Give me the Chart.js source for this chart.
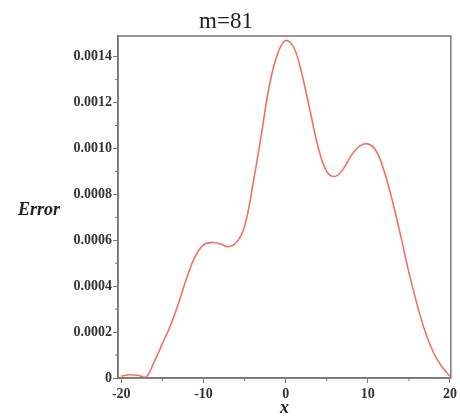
<!DOCTYPE html>
<html>
<head>
<meta charset="utf-8">
<script src="https://cdn.jsdelivr.net/npm/chart.js@4/dist/chart.umd.min.js"></script>
<style>
  body { margin: 0; background: #fff; }
  #wrap { width: 460px; height: 419px; }
</style>
</head>
<body>
<div id="wrap"><canvas id="errChart" width="460" height="419"></canvas></div>
<script>
// sample positions and error values
const xs = [-20, -19, -18, -17, -16, -15, -14, -13, -12, -11, -10, -9, -8, -7, -6, -5, -4, -3, -2, -1,
            0, 1, 2, 3, 4, 5, 6, 7, 8, 9, 10, 11, 12, 13, 14, 15, 16, 17, 18, 19, 20];
const errors = [0.000008, 0.000014, 0.000012, 0.000003, 0.00007, 0.00015, 0.00023, 0.00033, 0.00044, 0.00053,
                0.00058, 0.00059, 0.000585, 0.000572, 0.00059, 0.00066, 0.00084, 0.00105, 0.00127, 0.00141,
                0.00147, 0.00144, 0.00132, 0.00116, 0.00100, 0.00090, 0.000878, 0.00091, 0.00097, 0.00101,
                0.00102, 0.00099, 0.00090, 0.00077, 0.00062, 0.00046, 0.00032, 0.00020, 0.00011, 0.00005,
                0.000008];

const xTicks = [-20, -10, 0, 10, 20];
const xMinor = [-15, -5, 5, 15];
const yTicks = [0, 0.0002, 0.0004, 0.0006, 0.0008, 0.0010, 0.0012, 0.0014];
const yMinor = [0.0001, 0.0003, 0.0005, 0.0007, 0.0009, 0.0011, 0.0013];

const axisGrey = "#777";
const serif = "'Liberation Serif', 'Times New Roman', serif";

// box around the plot, short minor ticks and the horizontal "Error" label
const framePlugin = {
    id: "frame",
    afterDraw(chart) {
        const { ctx, chartArea: a, scales } = chart;
        ctx.save();
        ctx.strokeStyle = axisGrey;
        ctx.lineWidth = 1.5;
        ctx.strokeRect(a.left, a.top, a.right - a.left, a.bottom - a.top);

        ctx.lineWidth = 1;
        ctx.beginPath();
        xMinor.forEach(v => {
            const px = scales.x.getPixelForValue(v);
            ctx.moveTo(px, a.bottom);
            ctx.lineTo(px, a.bottom + 3);
        });
        yMinor.forEach(v => {
            const py = scales.y.getPixelForValue(v);
            ctx.moveTo(a.left, py);
            ctx.lineTo(a.left - 3, py);
        });
        ctx.stroke();

        ctx.fillStyle = "#222";
        ctx.font = "italic bold 18px " + serif;
        ctx.textAlign = "center";
        ctx.textBaseline = "middle";
        ctx.fillText("Error", 39, 210);
        ctx.restore();
    }
};

new Chart(document.getElementById("errChart"), {
    type: "line",
    data: {
        datasets: [{
            data: xs.map((x, i) => ({ x: x, y: errors[i] })),
            borderColor: "#f07262",
            borderWidth: 1.6,
            pointRadius: 0,
            fill: false,
            tension: 0.4
        }]
    },
    options: {
        responsive: false,
        animation: false,
        layout: { padding: { left: 0, right: 8, top: 0, bottom: 0 } },
        plugins: {
            legend: { display: false },
            tooltip: { enabled: false },
            title: {
                display: true,
                text: "m=81",
                color: "#222",
                font: { family: serif, size: 23, weight: "normal" },
                padding: { top: 8, bottom: 0.4 }
            }
        },
        scales: {
            x: {
                type: "linear",
                min: -20.4,
                max: 20.1,
                afterBuildTicks: s => { s.ticks = xTicks.map(v => ({ value: v })); },
                afterFit: s => { s.height = 41; },
                grid: { drawOnChartArea: false, tickLength: 5, color: axisGrey, tickWidth: 1 },
                border: { color: axisGrey, width: 1.5 },
                ticks: {
                    color: "#333",
                    padding: 3,
                    maxRotation: 0,
                    font: { family: serif, size: 14, weight: "bold" },
                    callback: v => String(v)
                },
                title: {
                    display: true,
                    text: "x",
                    color: "#222",
                    padding: { top: 0, bottom: 0 },
                    font: { family: serif, size: 18, style: "italic", weight: "bold" }
                }
            },
            y: {
                min: 0,
                max: 0.00149,
                afterBuildTicks: s => { s.ticks = yTicks.map(v => ({ value: v })); },
                afterFit: s => { s.width = 118; },
                grid: { drawOnChartArea: false, tickLength: 5, color: axisGrey, tickWidth: 1 },
                border: { color: axisGrey, width: 1.5 },
                ticks: {
                    color: "#333",
                    padding: 1,
                    font: { family: serif, size: 14, weight: "bold" },
                    callback: v => v === 0 ? "0" : v.toFixed(4)
                }
            }
        }
    },
    plugins: [framePlugin]
});
</script>
</body>
</html>
